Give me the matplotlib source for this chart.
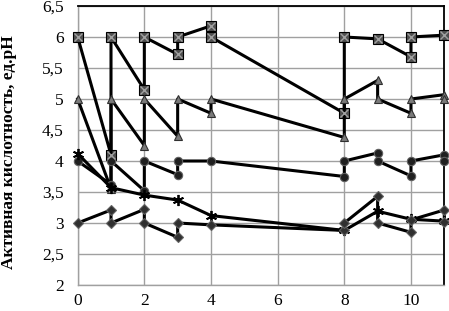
import matplotlib
matplotlib.use("Agg")
import matplotlib.pyplot as plt

# Data
square_x = [0, 1, 1, 2, 2, 3, 3, 4, 4, 8, 8, 9, 10, 10, 11]
square_y = [6, 4.1, 6, 5.15, 6, 5.72, 6, 6.18, 6, 4.77, 6, 5.97, 5.68, 6, 6.03]

triangle_x = [0, 1, 1, 2, 2, 3, 3, 4, 4, 8, 8, 9, 9, 10, 10, 11, 11]
triangle_y = [5, 3.55, 5, 4.25, 5, 4.4, 5, 4.77, 5, 4.38, 5, 5.3, 5, 4.77, 5, 5.07, 5]

circle_x = [0, 1, 1, 2, 2, 3, 3, 4, 8, 8, 9, 9, 10, 10, 11, 11]
circle_y = [4, 3.62, 4, 3.52, 4, 3.78, 4, 4, 3.75, 4, 4.13, 4, 3.76, 4, 4.1, 4]

star_x = [0, 1, 2, 3, 4, 8, 9, 10, 11]
star_y = [4.12, 3.57, 3.45, 3.37, 3.12, 2.88, 3.19, 3.06, 3.03]

diamond_x = [0, 1, 1, 2, 2, 3, 3, 4, 8, 8, 9, 9, 10, 10, 11, 11]
diamond_y = [3, 3.21, 3, 3.22, 3, 2.77, 3, 2.97, 2.88, 3, 3.43, 3, 2.85, 3.05, 3.21, 3.02]

x_ticks = [0, 2, 4, 6, 8, 10]
y_ticks = [2, 2.5, 3, 3.5, 4, 4.5, 5, 5.5, 6, 6.5]
y_ticklabels = ["2", "2,5", "3", "3,5", "4", "4,5", "5", "5,5", "6", "6,5"]
y_label = "Активная кислотность, ед.pH"

plt.rcParams['font.family'] = ['Liberation Serif', 'DejaVu Serif']

fig = plt.figure(figsize=(4.49, 3.11), dpi=100)
ax = fig.add_axes([0.173, 0.0836, 0.8165, 0.8971])

lw = 2.2
ax.plot(square_x, square_y, color='black', lw=lw, marker='s', ms=7,
        mfc='#505050', mec='black', mew=0.8, zorder=3, clip_on=False)
ax.plot(square_x, square_y, ls='none', marker='x', ms=6, mec='#a0a0a0',
        mew=1.0, zorder=4, clip_on=False)
ax.plot(triangle_x, triangle_y, color='black', lw=lw, marker='^', ms=6,
        mfc='#7a7a7a', mec='#303030', mew=0.8, zorder=3, clip_on=False)
ax.plot(circle_x, circle_y, color='black', lw=lw, marker='o', ms=6,
        mfc='#202020', mec='#606060', mew=0.8, zorder=3, clip_on=False)
ax.plot(star_x, star_y, color='black', lw=lw, marker=(6, 2, 0), ms=8,
        mec='black', mew=1.3, zorder=3, clip_on=False)
ax.plot(diamond_x, diamond_y, color='black', lw=lw, marker='D', ms=5,
        mfc='#303030', mec='#606060', mew=0.8, zorder=3, clip_on=False)

ax.set_xlim(0, 11)
ax.set_ylim(2, 6.5)
ax.set_xticks(x_ticks)
ax.set_yticks(y_ticks)
ax.set_yticklabels(y_ticklabels)
ax.tick_params(length=0, labelsize=12.5)
ax.tick_params(axis='y', pad=10)
ax.tick_params(axis='x', pad=6)
ax.grid(True, color='#a0a0a0', lw=1.0, zorder=0)
ax.set_axisbelow(True)

for s in ['left', 'bottom']:
    ax.spines[s].set_color('#a0a0a0')
    ax.spines[s].set_linewidth(1.0)
for s in ['top', 'right']:
    ax.spines[s].set_color('black')
    ax.spines[s].set_linewidth(1.3)

ax.set_ylabel(y_label, fontsize=12.5, fontweight='bold')
ax.yaxis.set_label_coords(-0.166, 0.475)

fig.savefig("out.png", dpi=100)
